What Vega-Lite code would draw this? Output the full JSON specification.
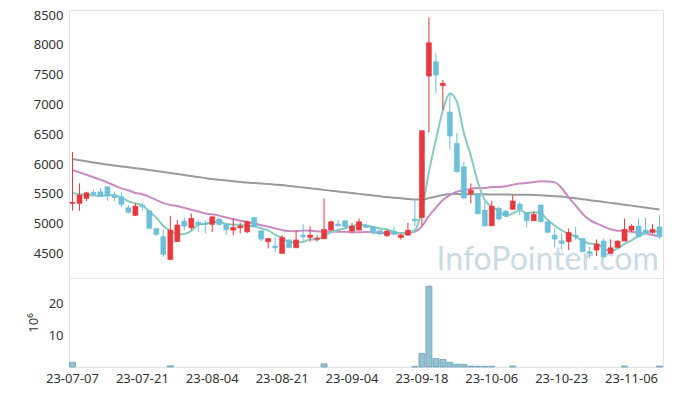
{
  "$schema": "https://vega.github.io/schema/vega-lite/v6.json",
  "autosize": {"type": "pad"},
  "padding": {"left": 26, "top": 8, "right": 10, "bottom": 5},
  "background": "white",
  "spacing": 0,
  "bounds": "flush",
  "config": {
    "view": {"stroke": "#e3e3e3"},
    "axis": {"labelFont": "Noto Sans", "labelFontSize": 13, "labelColor": "#333333", "domain": false, "ticks": false, "grid": false, "titleFont": "Noto Sans", "labelOverlap": false},
    "axisY": {"labelOverlap": false},
    "concat": {"spacing": 0}
  },
  "datasets": {
    "p": [
      {"d":"23-07-07","o":5340,"h":6200,"l":5220,"c":5360,"v":1.5,"m5":5515,"m20":5899,"m60":6084},
      {"d":"23-07-10","o":5340,"h":5676,"l":5216,"c":5480,"v":0.02,"m5":5495,"m20":5860,"m60":6065},
      {"d":"23-07-11","o":5424,"h":5535,"l":5379,"c":5518,"v":0.02,"m5":5480,"m20":5820,"m60":6047},
      {"d":"23-07-12","o":5525,"h":5564,"l":5463,"c":5491,"v":0.02,"m5":5475,"m20":5780,"m60":6028},
      {"d":"23-07-13","o":5535,"h":5602,"l":5441,"c":5468,"v":0.02,"m5":5463,"m20":5740,"m60":6010},
      {"d":"23-07-14","o":5620,"h":5620,"l":5385,"c":5463,"v":0.02,"m5":5484,"m20":5690,"m60":5991},
      {"d":"23-07-17","o":5480,"h":5535,"l":5379,"c":5441,"v":0.02,"m5":5476,"m20":5640,"m60":5976},
      {"d":"23-07-18","o":5451,"h":5525,"l":5283,"c":5324,"v":0.02,"m5":5437,"m20":5592,"m60":5961},
      {"d":"23-07-19","o":5266,"h":5312,"l":5172,"c":5189,"v":0.02,"m5":5377,"m20":5560,"m60":5946},
      {"d":"23-07-20","o":5139,"h":5340,"l":5127,"c":5295,"v":0.02,"m5":5342,"m20":5515,"m60":5931},
      {"d":"23-07-21","o":5307,"h":5350,"l":5228,"c":5283,"v":0.02,"m5":5306,"m20":5495,"m60":5916},
      {"d":"23-07-24","o":5216,"h":5228,"l":4904,"c":4921,"v":0.02,"m5":5202,"m20":5450,"m60":5899},
      {"d":"23-07-25","o":4921,"h":4921,"l":4792,"c":4820,"v":0.02,"m5":5102,"m20":5396,"m60":5882},
      {"d":"23-07-26","o":4780,"h":4904,"l":4444,"c":4484,"v":0.02,"m5":4961,"m20":5345,"m60":5866},
      {"d":"23-07-27","o":4398,"h":5132,"l":4398,"c":4891,"v":0.4,"m5":4880,"m20":5315,"m60":5849},
      {"d":"23-07-28","o":4698,"h":5060,"l":4698,"c":4978,"v":0.02,"m5":4819,"m20":5295,"m60":5832},
      {"d":"23-07-31","o":5043,"h":5105,"l":4891,"c":4958,"v":0.02,"m5":4826,"m20":5265,"m60":5815},
      {"d":"23-08-01","o":4931,"h":5172,"l":4891,"c":5088,"v":0.02,"m5":4880,"m20":5235,"m60":5798},
      {"d":"23-08-02","o":5026,"h":5071,"l":4863,"c":4988,"v":0.02,"m5":4981,"m20":5205,"m60":5782},
      {"d":"23-08-03","o":5009,"h":5060,"l":4837,"c":4988,"v":0.02,"m5":5000,"m20":5171,"m60":5765},
      {"d":"23-08-04","o":4988,"h":5116,"l":4863,"c":5116,"v":0.02,"m5":5028,"m20":5159,"m60":5748},
      {"d":"23-08-07","o":5077,"h":5090,"l":4960,"c":4988,"v":0.02,"m5":5034,"m20":5135,"m60":5736},
      {"d":"23-08-08","o":4988,"h":5000,"l":4810,"c":4897,"v":0.02,"m5":4995,"m20":5104,"m60":5724},
      {"d":"23-08-09","o":4891,"h":5088,"l":4808,"c":4937,"v":0.02,"m5":4985,"m20":5076,"m60":5713},
      {"d":"23-08-10","o":4931,"h":5015,"l":4837,"c":4960,"v":0.02,"m5":4980,"m20":5050,"m60":5701},
      {"d":"23-08-11","o":4863,"h":5050,"l":4840,"c":5032,"v":0.02,"m5":4963,"m20":5029,"m60":5689},
      {"d":"23-08-14","o":5105,"h":5105,"l":4940,"c":4948,"v":0.02,"m5":4955,"m20":5004,"m60":5681},
      {"d":"23-08-16","o":4880,"h":4890,"l":4708,"c":4741,"v":0.02,"m5":4924,"m20":4975,"m60":5672},
      {"d":"23-08-17","o":4698,"h":4760,"l":4585,"c":4752,"v":0.02,"m5":4887,"m20":4953,"m60":5664},
      {"d":"23-08-18","o":4624,"h":4769,"l":4511,"c":4596,"v":0.02,"m5":4814,"m20":4918,"m60":5655},
      {"d":"23-08-21","o":4501,"h":4808,"l":4501,"c":4769,"v":0.02,"m5":4761,"m20":4893,"m60":5647},
      {"d":"23-08-22","o":4727,"h":4740,"l":4596,"c":4596,"v":0.02,"m5":4691,"m20":4876,"m60":5634},
      {"d":"23-08-23","o":4596,"h":4891,"l":4596,"c":4727,"v":0.02,"m5":4688,"m20":4872,"m60":5620},
      {"d":"23-08-24","o":4808,"h":4993,"l":4708,"c":4780,"v":0.02,"m5":4694,"m20":4887,"m60":5607},
      {"d":"23-08-25","o":4769,"h":4960,"l":4700,"c":4808,"v":0.02,"m5":4736,"m20":4882,"m60":5594},
      {"d":"23-08-28","o":4741,"h":4808,"l":4700,"c":4758,"v":0.02,"m5":4734,"m20":4871,"m60":5580},
      {"d":"23-08-29","o":4746,"h":5424,"l":4746,"c":4904,"v":1.0,"m5":4795,"m20":4869,"m60":5567},
      {"d":"23-08-30","o":4891,"h":5050,"l":4891,"c":5032,"v":0.02,"m5":4856,"m20":4866,"m60":5553},
      {"d":"23-08-31","o":4993,"h":5071,"l":4950,"c":4965,"v":0.02,"m5":4893,"m20":4865,"m60":5540},
      {"d":"23-09-01","o":5049,"h":5049,"l":4920,"c":4948,"v":0.02,"m5":4921,"m20":4863,"m60":5526},
      {"d":"23-09-04","o":4876,"h":5015,"l":4840,"c":4960,"v":0.02,"m5":4962,"m20":4855,"m60":5513},
      {"d":"23-09-05","o":4891,"h":5088,"l":4891,"c":5032,"v":0.02,"m5":4987,"m20":4857,"m60":5500},
      {"d":"23-09-06","o":4976,"h":5000,"l":4920,"c":4937,"v":0.02,"m5":4968,"m20":4859,"m60":5486},
      {"d":"23-09-07","o":4948,"h":4960,"l":4820,"c":4847,"v":0.02,"m5":4945,"m20":4855,"m60":5473},
      {"d":"23-09-08","o":4880,"h":4900,"l":4800,"c":4825,"v":0.02,"m5":4920,"m20":4848,"m60":5459},
      {"d":"23-09-11","o":4797,"h":4900,"l":4780,"c":4876,"v":0.02,"m5":4903,"m20":4840,"m60":5446},
      {"d":"23-09-12","o":4876,"h":4950,"l":4800,"c":4837,"v":0.02,"m5":4864,"m20":4835,"m60":5436},
      {"d":"23-09-13","o":4769,"h":4830,"l":4730,"c":4808,"v":0.02,"m5":4839,"m20":4838,"m60":5425},
      {"d":"23-09-14","o":4808,"h":5015,"l":4800,"c":4891,"v":0.02,"m5":4847,"m20":4845,"m60":5415},
      {"d":"23-09-15","o":5077,"h":5400,"l":4960,"c":5049,"v":0.2,"m5":4892,"m20":4867,"m60":5404},
      {"d":"23-09-18","o":5105,"h":6560,"l":4976,"c":6560,"v":4.3,"m5":5229,"m20":4957,"m60":5404},
      {"d":"23-09-19","o":7476,"h":8461,"l":6525,"c":8035,"v":25.5,"m5":5869,"m20":5129,"m60":5429},
      {"d":"23-09-20","o":7717,"h":7857,"l":7186,"c":7493,"v":2.7,"m5":6406,"m20":5267,"m60":5454},
      {"d":"23-09-21","o":7314,"h":7409,"l":6906,"c":7354,"v":2.4,"m5":6898,"m20":5396,"m60":5480},
      {"d":"23-09-22","o":6872,"h":7196,"l":6246,"c":6470,"v":1.5,"m5":7182,"m20":5479,"m60":5496},
      {"d":"23-09-25","o":6347,"h":6525,"l":5860,"c":5871,"v":0.9,"m5":7045,"m20":5535,"m60":5496},
      {"d":"23-09-26","o":5955,"h":6039,"l":5420,"c":5430,"v":0.85,"m5":6524,"m20":5561,"m60":5495},
      {"d":"23-09-27","o":5508,"h":5676,"l":5340,"c":5560,"v":0.3,"m5":6137,"m20":5587,"m60":5494},
      {"d":"23-10-04","o":5500,"h":5510,"l":5161,"c":5165,"v":0.25,"m5":5699,"m20":5597,"m60":5493},
      {"d":"23-10-05","o":5228,"h":5367,"l":4950,"c":4965,"v":0.25,"m5":5398,"m20":5598,"m60":5492},
      {"d":"23-10-06","o":4965,"h":5384,"l":4960,"c":5295,"v":0.25,"m5":5283,"m20":5615,"m60":5490},
      {"d":"23-10-10","o":5256,"h":5290,"l":5050,"c":5077,"v":0.02,"m5":5212,"m20":5617,"m60":5489},
      {"d":"23-10-11","o":5211,"h":5230,"l":5120,"c":5140,"v":0.02,"m5":5128,"m20":5627,"m60":5488},
      {"d":"23-10-12","o":5240,"h":5480,"l":5228,"c":5380,"v":0.3,"m5":5171,"m20":5654,"m60":5487},
      {"d":"23-10-13","o":5329,"h":5367,"l":5144,"c":5240,"v":0.02,"m5":5226,"m20":5675,"m60":5486},
      {"d":"23-10-16","o":5183,"h":5190,"l":4937,"c":5049,"v":0.02,"m5":5177,"m20":5683,"m60":5484},
      {"d":"23-10-17","o":5049,"h":5200,"l":5049,"c":5155,"v":0.02,"m5":5193,"m20":5699,"m60":5480},
      {"d":"23-10-18","o":5312,"h":5320,"l":5030,"c":5032,"v":0.02,"m5":5171,"m20":5711,"m60":5475},
      {"d":"23-10-19","o":5032,"h":5040,"l":4840,"c":4854,"v":0.02,"m5":5066,"m20":5709,"m60":5470},
      {"d":"23-10-20","o":4808,"h":4921,"l":4602,"c":4741,"v":0.02,"m5":4966,"m20":5693,"m60":5462},
      {"d":"23-10-23","o":4713,"h":4837,"l":4568,"c":4669,"v":0.02,"m5":4890,"m20":5599,"m60":5454},
      {"d":"23-10-24","o":4698,"h":4921,"l":4557,"c":4854,"v":0.02,"m5":4830,"m20":5440,"m60":5440},
      {"d":"23-10-25","o":4808,"h":4950,"l":4720,"c":4780,"v":0.02,"m5":4780,"m20":5304,"m60":5425},
      {"d":"23-10-26","o":4752,"h":4760,"l":4528,"c":4528,"v":0.02,"m5":4714,"m20":5163,"m60":5410},
      {"d":"23-10-27","o":4528,"h":4612,"l":4417,"c":4501,"v":0.02,"m5":4666,"m20":5064,"m60":5395},
      {"d":"23-10-30","o":4557,"h":4735,"l":4456,"c":4658,"v":0.02,"m5":4664,"m20":5004,"m60":5379},
      {"d":"23-10-31","o":4708,"h":4752,"l":4444,"c":4444,"v":0.02,"m5":4582,"m20":4954,"m60":5364},
      {"d":"23-11-01","o":4501,"h":4735,"l":4501,"c":4596,"v":0.02,"m5":4545,"m20":4906,"m60":5349},
      {"d":"23-11-02","o":4602,"h":4720,"l":4590,"c":4708,"v":0.02,"m5":4581,"m20":4883,"m60":5333},
      {"d":"23-11-03","o":4708,"h":5088,"l":4708,"c":4904,"v":0.3,"m5":4662,"m20":4880,"m60":5318},
      {"d":"23-11-06","o":4891,"h":4990,"l":4860,"c":4960,"v":0.02,"m5":4722,"m20":4864,"m60":5303},
      {"d":"23-11-07","o":4960,"h":5088,"l":4780,"c":4780,"v":0.02,"m5":4790,"m20":4849,"m60":5286},
      {"d":"23-11-08","o":4891,"h":5099,"l":4848,"c":4848,"v":0.02,"m5":4840,"m20":4834,"m60":5270},
      {"d":"23-11-09","o":4854,"h":4990,"l":4830,"c":4904,"v":0.02,"m5":4879,"m20":4810,"m60":5253},
      {"d":"23-11-10","o":4948,"h":5144,"l":4741,"c":4780,"v":0.3,"m5":4854,"m20":4787,"m60":5236}
    ]
  },
  "vconcat": [
    {
      "width": 594,
      "height": 268,
      "data": {"name": "p"},
      "encoding": {
        "x": {"field": "d", "type": "ordinal", "sort": null, "scale": {"paddingInner": 0, "paddingOuter": 0}, "axis": null}
      },
      "layer": [
        {"mark": {"type": "line", "color": "#9a9a9a", "strokeWidth": 2, "interpolate": "monotone"},
         "encoding": {"y": {"field": "m60", "type": "quantitative", "scale": {"domain": [4089, 8584], "nice": false, "zero": false}, "axis": {"values": [4500, 5000, 5500, 6000, 6500, 7000, 7500, 8000, 8500], "format": "d", "title": null, "labelPadding": 6, "labelOverlap": false, "labelSeparation": 0, "labelBound": false}}}},
        {"mark": {"type": "line", "color": "#c98bc3", "strokeWidth": 2, "interpolate": "monotone"},
         "encoding": {"y": {"field": "m20", "type": "quantitative", "axis": {"values": [4500, 5000, 5500, 6000, 6500, 7000, 7500, 8000, 8500], "format": "d", "title": null, "labelPadding": 6, "labelOverlap": false}}}},
        {"mark": {"type": "line", "color": "#86cbbd", "strokeWidth": 2, "interpolate": "monotone"},
         "encoding": {"y": {"field": "m5", "type": "quantitative", "axis": {"values": [4500, 5000, 5500, 6000, 6500, 7000, 7500, 8000, 8500], "format": "d", "title": null, "labelPadding": 6, "labelOverlap": false}}}},
        {
          "data": {"values": [{"d": "23-10-19", "t": "InfoPointer.com"}]},
          "mark": {"type": "text", "font": "Lato", "fontSize": 32, "color": "#c3d5e0", "opacity": 0.85, "align": "center", "baseline": "alphabetic"},
          "encoding": {
            "y": {"datum": 4221, "type": "quantitative", "axis": {"values": [4500, 5000, 5500, 6000, 6500, 7000, 7500, 8000, 8500], "format": "d", "title": null, "labelPadding": 6, "labelOverlap": false}},
            "text": {"field": "t"}
          }
        },
        {"mark": {"type": "rule", "strokeWidth": 1},
         "encoding": {
           "y": {"field": "l", "type": "quantitative", "axis": {"values": [4500, 5000, 5500, 6000, 6500, 7000, 7500, 8000, 8500], "format": "d", "title": null, "labelPadding": 6, "labelOverlap": false}},
           "y2": {"field": "h"},
           "color": {"condition": {"test": "datum.c >= datum.o", "value": "#e8383e"}, "value": "#6cc0d8"}
         }},
        {"mark": {"type": "bar", "width": 5, "strokeWidth": 0.6},
         "encoding": {
           "y": {"field": "o", "type": "quantitative", "axis": {"values": [4500, 5000, 5500, 6000, 6500, 7000, 7500, 8000, 8500], "format": "d", "title": null, "labelPadding": 6, "labelOverlap": false}},
           "y2": {"field": "c"},
           "color": {"condition": {"test": "datum.c >= datum.o", "value": "#e8383e"}, "value": "#6cc0d8"},
           "stroke": {"condition": {"test": "datum.c >= datum.o", "value": "#e8383e"}, "value": "#6cc0d8"}
         }}
      ]
    },
    {
      "width": 594,
      "height": 89,
      "data": {"name": "p"},
      "mark": {"type": "bar", "width": 6, "fill": "#94c1d2", "stroke": "#6fa3b8", "strokeWidth": 0.8},
      "encoding": {
        "x": {"field": "d", "type": "ordinal", "sort": null, "scale": {"paddingInner": 0, "paddingOuter": 0},
              "axis": {"values": ["23-07-07","23-07-21","23-08-04","23-08-21","23-09-04","23-09-18","23-10-06","23-10-23","23-11-06"], "labelAngle": 0, "title": null, "labelPadding": 5}},
        "y": {"field": "v", "type": "quantitative", "scale": {"domain": [0, 28.1], "nice": false},
              "axis": {"values": [10, 20], "title": "10⁶", "titleFontSize": 13, "titleFontWeight": "normal", "titleColor": "#333333", "labelPadding": 6, "titlePadding": 8}},
        "strokeOpacity": {"condition": {"test": "datum.v < 0.1", "value": 0}, "value": 1}
      }
    }
  ]
}
